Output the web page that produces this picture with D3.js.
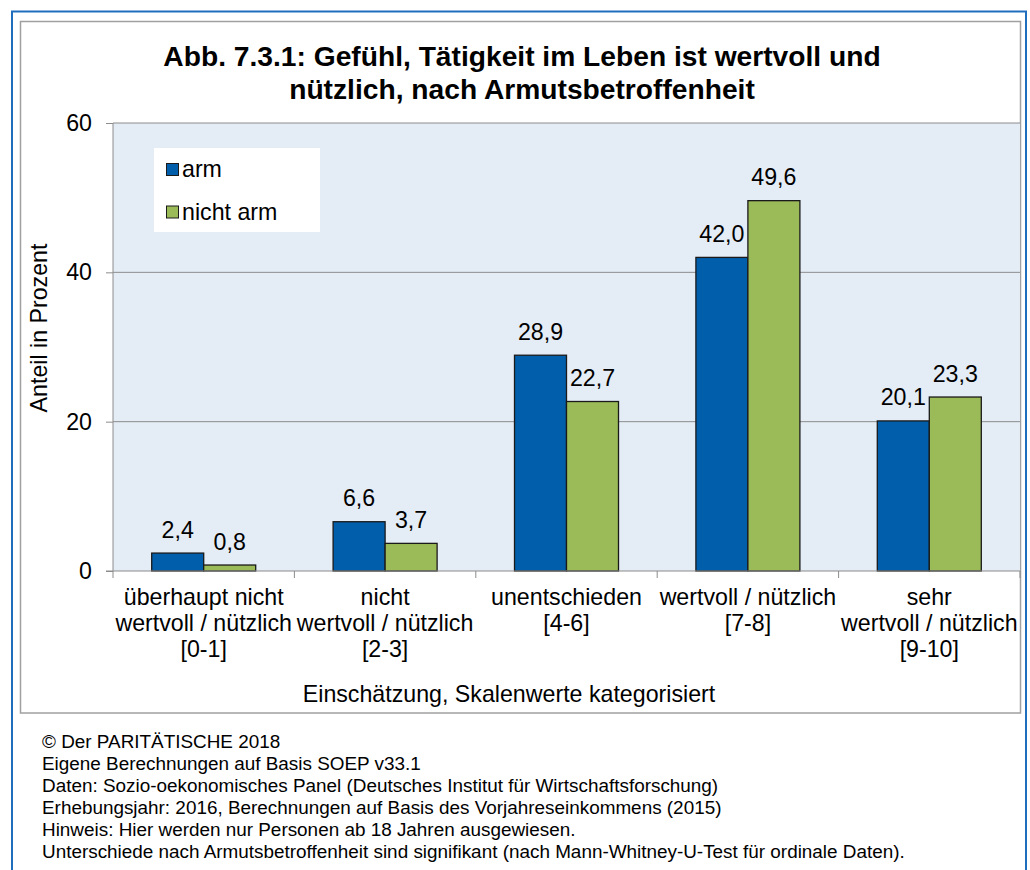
<!DOCTYPE html>
<html><head><meta charset="utf-8">
<script src="https://cdn.jsdelivr.net/npm/d3@7"></script>
<style>body{margin:0;background:#fff;}svg{display:block;font-family:"Liberation Sans",Arial,sans-serif;}</style>
</head><body>
<script>
const categories = [
  ["überhaupt nicht","wertvoll / nützlich","[0-1]"],
  ["nicht","wertvoll / nützlich","[2-3]"],
  ["unentschieden","[4-6]"],
  ["wertvoll / nützlich","[7-8]"],
  ["sehr","wertvoll / nützlich","[9-10]"]
];
const seriesNames = ["arm","nicht arm"];
const arm = [2.4, 6.6, 28.9, 42.0, 20.1];
const nichtArm = [0.8, 3.7, 22.7, 49.6, 23.3];
const yTicks = [0, 20, 40, 60];
const colors = ["#005eaa", "#9bbb59"];
const titleLines = ["Abb. 7.3.1: Gefühl, Tätigkeit im Leben ist wertvoll und","nützlich, nach Armutsbetroffenheit"];
const footer = [
  "© Der PARITÄTISCHE 2018",
  "Eigene Berechnungen auf Basis SOEP v33.1",
  "Daten: Sozio-oekonomisches Panel (Deutsches Institut für Wirtschaftsforschung)",
  "Erhebungsjahr: 2016, Berechnungen auf Basis des Vorjahreseinkommens (2015)",
  "Hinweis: Hier werden nur Personen ab 18 Jahren ausgewiesen.",
  "Unterschiede nach Armutsbetroffenheit sind signifikant (nach Mann-Whitney-U-Test für ordinale Daten)."
];

const FS = 23.2;
const W = 1030, H = 870;
const svg = d3.select("body").append("svg").attr("width", W).attr("height", H);

// frames
svg.append("path").attr("d", "M12,875 L12,11.5 L1026,11.5 L1026,875")
  .attr("fill","none").attr("stroke","#1f6ebd").attr("stroke-width",2);
svg.append("rect").attr("x",20.5).attr("y",21.5).attr("width",1000).attr("height",691.5)
  .attr("fill","#fff").attr("stroke","#a0a0a0").attr("stroke-width",1.5);

const plot = {l:113, r:1020, t:123, b:571};
const x0 = d3.scaleBand().domain(d3.range(categories.length)).range([plot.l, plot.r]).paddingInner(0).paddingOuter(0);
const y = d3.scaleLinear().domain([0,60]).range([plot.b, plot.t]);
const barW = 52;
const x1 = d3.scaleBand().domain(d3.range(seriesNames.length)).range([-barW, barW]);

svg.append("rect").attr("x",plot.l).attr("y",plot.t).attr("width",plot.r-plot.l).attr("height",plot.b-plot.t)
  .attr("fill","#e4ecf5");

// gridlines
svg.append("g").selectAll("line").data(yTicks.filter(d=>d>0)).join("line")
  .attr("x1",plot.l).attr("x2",plot.r).attr("y1",d=>y(d)).attr("y2",d=>y(d))
  .attr("stroke","#8c8c8c").attr("stroke-width",1);

// y axis
const yAxis = d3.axisLeft(y).tickValues(yTicks).tickSize(7).tickFormat(d3.format("d"));
const gy = svg.append("g").attr("transform",`translate(${plot.l},0)`).call(yAxis);
gy.select(".domain").attr("stroke","#8c8c8c").attr("d",`M0,${plot.t}V${plot.b}`);
gy.selectAll(".tick line").attr("stroke","#8c8c8c");
gy.selectAll(".tick text").attr("font-size",FS).attr("fill","#000").attr("x",-21)
  .attr("font-family","'Liberation Sans',Arial,sans-serif");

// bars
const data = [arm, nichtArm];
categories.forEach((c,i)=>{
  const cx = x0(i) + x0.bandwidth()/2;
  data.forEach((s,j)=>{
    svg.append("rect").attr("x",cx + x1(j)).attr("y",y(s[i]))
      .attr("width",x1.bandwidth()).attr("height",y(0)-y(s[i]))
      .attr("fill",colors[j]).attr("stroke","#1a1a1a").attr("stroke-width",1.3);
    svg.append("text").attr("x",cx + x1(j) + x1.bandwidth()/2).attr("y",y(s[i])-15.5)
      .attr("text-anchor","middle").attr("font-size",FS).attr("fill","#000")
      .text(d3.format(".1f")(s[i]).replace(".",","));
  });
});

// x axis
const gx = svg.append("g").attr("transform",`translate(0,${plot.b})`);
gx.append("line").attr("x1",plot.l-7).attr("x2",plot.r).attr("y1",0).attr("y2",0).attr("stroke","#8c8c8c");
const bounds = d3.range(categories.length+1).map(i=> i<categories.length ? x0(i) : plot.r);
gx.selectAll("line.t").data(bounds).join("line").attr("class","t")
  .attr("x1",d=>d).attr("x2",d=>d).attr("y1",0).attr("y2",7).attr("stroke","#8c8c8c");
categories.forEach((c,i)=>{
  const t = gx.append("text").attr("x",x0(i)+x0.bandwidth()/2).attr("text-anchor","middle")
    .attr("font-size",FS).attr("fill","#000");
  c.forEach((ln,k)=> t.append("tspan").attr("x",x0(i)+x0.bandwidth()/2).attr("y",34+k*26).text(ln));
});

// axis titles
svg.append("text").attr("x",509).attr("y",702).attr("text-anchor","middle")
  .attr("font-size",FS).text("Einschätzung, Skalenwerte kategorisiert");
svg.append("text").attr("transform",`translate(47,328) rotate(-90)`).attr("text-anchor","middle")
  .attr("font-size",FS).text("Anteil in Prozent");

// title
titleLines.forEach((t,i)=> svg.append("text").attr("x",522).attr("y",66+i*33).attr("text-anchor","middle")
  .attr("font-size",28.2).attr("font-weight","bold").text(t));

// legend
const lg = svg.append("g");
lg.append("rect").attr("x",154).attr("y",148).attr("width",166).attr("height",84).attr("fill","#fff");
seriesNames.forEach((n,j)=>{
  const cy = 169.5 + j*42.5;
  lg.append("rect").attr("x",166.5).attr("y",cy-6).attr("width",12).attr("height",12)
    .attr("fill",colors[j]).attr("stroke","#1a1a1a").attr("stroke-width",1);
  lg.append("text").attr("x",182).attr("y",cy+7.5).attr("font-size",FS).text(n);
});

// footer
footer.forEach((t,i)=> svg.append("text").attr("x",42).attr("y",748+i*21.9).attr("font-size",18.9).text(t));
</script>
</body></html>
